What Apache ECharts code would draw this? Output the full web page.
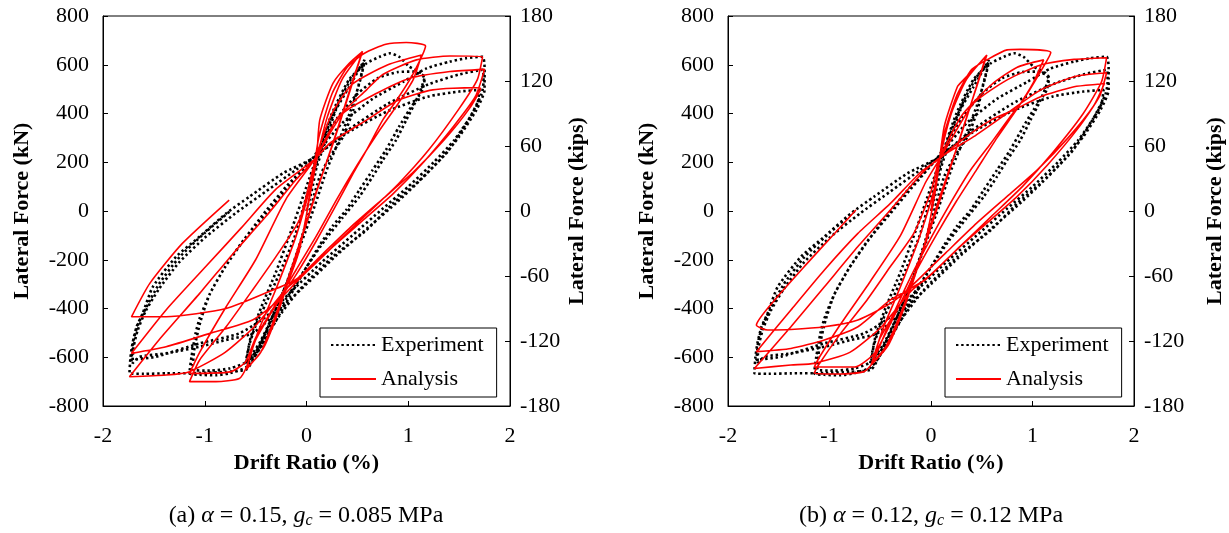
<!DOCTYPE html>
<html><head><meta charset="utf-8">
<script src="https://cdn.jsdelivr.net/npm/echarts@6/dist/echarts.min.js"></script>
<style>html,body{margin:0;padding:0;background:#fff}#c{width:1229px;height:533px}</style>
</head><body><div id="c"></div>
<script>
// ---- data (drift ratio %, lateral force kN) ----
const experiment = [
[0,0],[0.05,80],[0.1,180],[0.19,290],[0.29,415],[0.42,510],[0.57,620],
[0.55,579],[0.5,497],[0.46,415],[0.36,305],[0.23,223],[0.13,141],[0.03,0],[-0.07,-140],[-0.2,-300],[-0.33,-430],[-0.47,-560],[-0.6,-630],
[-0.57,-560],[-0.5,-470],[-0.4,-380],[-0.27,-260],[-0.12,-110],[0.0,60],[0.1,200],[0.2,330],[0.32,450],[0.45,550],[0.57,610],
[0.53,540],[0.45,430],[0.33,300],[0.2,170],[0.08,20],[-0.05,-130],[-0.18,-280],[-0.32,-420],[-0.46,-540],[-0.59,-620],
[-0.55,-520],[-0.45,-400],[-0.3,-250],[-0.15,-80],[0,100],[0.1,220],[0.25,400],[0.42,540],[0.59,606],[0.72,633],[0.82,647],[0.91,633],[1.01,592],[1.13,565],[1.16,538],
[1.14,497],[1.1,469],[1.01,415],[0.91,346],[0.78,250],[0.65,168],[0.52,86],[0.39,4],[0.26,-60],[0.13,-140],[0.0,-230],[-0.15,-340],[-0.3,-450],[-0.45,-560],[-0.59,-640],[-0.75,-665],[-0.89,-674],[-1.05,-672],[-1.15,-666],
[-1.13,-598],[-1.09,-502],[-1.05,-440],[-0.95,-340],[-0.8,-230],[-0.6,-110],[-0.4,0],[-0.2,100],[0.06,216],[0.3,380],[0.5,480],[0.7,545],[0.9,570],[1.05,572],[1.13,560],[1.16,551],
[1.08,456],[0.98,373],[0.88,291],[0.75,209],[0.65,141],[0.52,59],[0.35,-30],[0.18,-120],[0.0,-230],[-0.2,-360],[-0.4,-500],[-0.55,-610],[-0.75,-645],[-0.95,-655],[-1.12,-650],
[-1.1,-560],[-1.04,-450],[-0.95,-340],[-0.8,-230],[-0.62,-120],[-0.4,-10],[-0.2,90],[0.06,216],[0.35,360],[0.65,460],[0.95,530],[1.18,585],[1.41,613],[1.57,627],[1.73,633],
[1.75,590],[1.75,540],[1.75,497],[1.67,415],[1.5,305],[1.31,209],[1.08,114],[0.85,31],[0.59,-78],[0.26,-187],[-0.07,-324],[-0.3,-450],[-0.5,-590],[-0.59,-650],[-0.8,-660],[-1.05,-665],[-1.38,-666],[-1.6,-668],[-1.74,-666],
[-1.73,-600],[-1.71,-543],[-1.67,-475],[-1.61,-420],[-1.51,-311],[-1.28,-187],[-1.05,-105],[-0.79,-10],[-0.56,59],[-0.23,155],[0.06,216],[0.4,330],[0.8,440],[1.2,520],[1.5,560],[1.73,579],
[1.74,530],[1.72,480],[1.6,380],[1.4,250],[1.15,140],[0.9,40],[0.6,-70],[0.3,-180],[0,-300],[-0.27,-406],[-0.53,-502],[-0.79,-529],[-1.05,-557],[-1.38,-584],[-1.64,-598],[-1.71,-625],
[-1.7,-560],[-1.66,-490],[-1.58,-410],[-1.45,-320],[-1.25,-210],[-1.0,-110],[-0.7,-10],[-0.4,80],[-0.1,170],[0.06,216],[0.4,320],[0.8,410],[1.2,470],[1.5,490],[1.7,497],
[1.68,440],[1.6,380],[1.45,290],[1.25,200],[1.0,100],[0.75,10],[0.45,-100],[0.15,-210],[-0.15,-330],[-0.4,-434],[-0.66,-502],[-1.05,-543],[-1.48,-598],[-1.72,-611],
[-1.7,-530],[-1.65,-460],[-1.58,-400],[-1.45,-300],[-1.25,-190],[-1.0,-90],[-0.75,0]
];
const analysisA = [
[0,0],[0.05,100],[0.1,210],[0.2,380],[0.35,540],[0.55,655],
[0.45,530],[0.3,330],[0.1,80],[-0.1,-180],[-0.25,-380],[-0.42,-560],[-0.59,-650],
[-0.5,-529],[-0.33,-406],[-0.2,-310],[-0.07,-160],[0.05,100],[0.1,223],[0.13,373],[0.26,524],[0.42,606],[0.55,654],
[0.44,510],[0.28,300],[0.08,60],[-0.12,-200],[-0.28,-400],[-0.45,-580],[-0.59,-645],
[-0.48,-500],[-0.3,-320],[-0.1,-100],[0.05,120],[0.12,300],[0.25,480],[0.4,590],[0.57,647],[0.78,684],[0.98,691],[1.17,677],
[1.05,565],[0.91,470],[0.75,374],[0.59,250],[0.46,155],[0.3,31],[0.1,-120],[-0.1,-260],[-0.33,-406],[-0.5,-529],[-0.59,-640],[-0.66,-687],[-0.89,-700],[-1.15,-700],
[-1.05,-611],[-0.79,-475],[-0.53,-324],[-0.3,-187],[-0.07,-37],[0.05,150],[0.1,230],[0.25,400],[0.45,520],[0.8,600],[1.13,640],
[1.05,540],[0.9,440],[0.7,320],[0.5,190],[0.3,50],[0.1,-100],[-0.1,-240],[-0.3,-380],[-0.5,-520],[-0.6,-620],[-0.75,-660],[-1.15,-666],
[-1.05,-580],[-0.8,-400],[-0.5,-200],[-0.2,50],[0.08,212],[0.3,380],[0.59,497],[0.75,560],[1.08,620],[1.41,636],[1.73,633],
[1.68,540],[1.5,420],[1.2,250],[0.9,110],[0.6,-10],[0.3,-130],[0,-250],[-0.2,-320],[-0.5,-470],[-0.8,-580],[-1.15,-659],[-1.38,-673],[-1.74,-680],
[-1.45,-529],[-1.05,-338],[-0.72,-174],[-0.4,-23],[-0.1,130],[0.08,212],[0.36,401],[0.69,483],[1.01,544],[1.41,572],[1.75,581],
[1.66,470],[1.45,350],[1.15,200],[0.85,70],[0.55,-40],[0.25,-150],[-0.05,-270],[-0.27,-365],[-0.53,-447],[-0.95,-502],[-1.38,-557],[-1.72,-584],
[-1.38,-406],[-0.99,-228],[-0.63,-64],[-0.3,90],[0.08,212],[0.23,278],[0.59,373],[0.91,456],[1.24,497],[1.64,506],[1.71,503],
[1.6,420],[1.35,290],[1.05,160],[0.75,50],[0.45,-60],[0.15,-180],[-0.1,-280],[-0.33,-324],[-0.79,-400],[-1.38,-434],[-1.72,-434],
[-1.54,-297],[-1.22,-133],[-0.76,45]
];
const analysisB = [
[0,0],[0.08,200],[0.2,400],[0.35,540],[0.55,640],
[0.45,510],[0.3,320],[0.1,60],[-0.1,-190],[-0.25,-380],[-0.42,-550],[-0.59,-632],
[-0.5,-520],[-0.33,-400],[-0.2,-300],[-0.07,-150],[0.05,100],[0.13,346],[0.26,510],[0.32,538],[0.54,633],
[0.44,500],[0.28,290],[0.08,50],[-0.12,-210],[-0.28,-400],[-0.45,-560],[-0.58,-625],
[-0.48,-490],[-0.3,-310],[-0.1,-90],[0.05,120],[0.12,300],[0.25,470],[0.4,580],[0.55,620],[0.75,661],[0.88,663],[1.18,650],
[1.05,551],[0.91,456],[0.78,387],[0.59,278],[0.39,168],[0.19,31],[0,-110],[-0.2,-270],[-0.4,-450],[-0.58,-625],[-0.66,-659],[-0.89,-669],[-1.15,-666],
[-1.12,-639],[-0.89,-502],[-0.63,-365],[-0.4,-228],[-0.17,-92],[0,80],[0.08,210],[0.3,390],[0.6,520],[0.85,590],[1.11,620],
[1.0,520],[0.85,420],[0.65,300],[0.45,170],[0.25,40],[0.05,-100],[-0.15,-250],[-0.35,-420],[-0.55,-580],[-0.75,-640],[-1.15,-640],
[-1.1,-600],[-0.9,-470],[-0.6,-290],[-0.3,-100],[-0.05,120],[0.1,223],[0.42,442],[0.75,538],[1.08,599],[1.41,622],[1.73,629],
[1.68,530],[1.5,400],[1.2,240],[0.9,100],[0.6,-20],[0.3,-140],[0,-260],[-0.2,-330],[-0.5,-480],[-0.8,-580],[-1.15,-625],[-1.38,-632],[-1.74,-646],
[-1.38,-475],[-1.05,-311],[-0.72,-146],[-0.4,4],[-0.1,150],[0.1,223],[0.42,305],[0.75,401],[1.08,497],[1.41,551],[1.73,567],
[1.66,470],[1.45,340],[1.15,190],[0.85,60],[0.55,-50],[0.25,-160],[-0.05,-280],[-0.4,-365],[-0.72,-475],[-1.05,-529],[-1.38,-564],[-1.72,-577],
[-1.38,-406],[-1.05,-242],[-0.72,-92],[-0.4,31],[-0.1,160],[0.1,220],[0.26,278],[0.59,373],[0.82,415],[1.08,469],[1.41,510],[1.67,521],[1.71,524],
[1.6,430],[1.35,300],[1.05,170],[0.75,60],[0.45,-50],[0.15,-170],[-0.2,-311],[-0.4,-379],[-0.72,-447],[-1.05,-475],[-1.38,-486],[-1.61,-488],[-1.72,-468],
[-1.54,-365],[-1.22,-215],[-0.95,-92],[-0.74,4]
];
const seriesNames = ['Experiment', 'Analysis'];
const captions = [
  '(a) {i|α} = 0.15, {i|g}{s|c} = 0.085 MPa',
  '(b) {i|α} = 0.12, {i|g}{s|c} = 0.12 MPa'
];
const xName = 'Drift Ratio (%)', yNameKN = 'Lateral Force (kN)', yNameKips = 'Lateral Force (kips)';

// ---- chart ----
const FONT = '"Liberation Serif","Times New Roman",serif';
const panels = [{left:103, width:407, cx:306, kipsGap:56}, {left:728, width:406, cx:931, kipsGap:70}];
const lbl = {fontFamily:FONT, fontSize:22, color:'#000'};
const nm = {fontFamily:FONT, fontSize:22, fontWeight:'bold', color:'#000'};
const axLine = {show:true, onZero:false, lineStyle:{color:'#000', width:1}};
const tick = {show:true, inside:true, length:5, lineStyle:{color:'#000'}};

const option = {
  animation:false,
  backgroundColor:'#fff',
  grid: panels.map(p => ({left:p.left, top:16, width:p.width, height:390, show:true, borderColor:'#000', borderWidth:1, backgroundColor:'transparent'})),
  xAxis: panels.map((p,i) => ({gridIndex:i, type:'value', min:-2, max:2, interval:1,
    axisLine:axLine, axisTick:tick, axisLabel:Object.assign({margin:19}, lbl), splitLine:{show:false},
    name:xName, nameLocation:'middle', nameGap:45, nameTextStyle:nm})),
  yAxis: [].concat(...panels.map((p,i) => [
    {gridIndex:i, type:'value', position:'left', min:-800, max:800, interval:200,
     axisLine:axLine, axisTick:tick, axisLabel:Object.assign({margin:14}, lbl), splitLine:{show:false},
     name:yNameKN, nameLocation:'middle', nameGap:70, nameRotate:90, nameTextStyle:nm},
    {gridIndex:i, type:'value', position:'right', min:-180, max:180, interval:60,
     axisLine:axLine, axisTick:tick, axisLabel:Object.assign({margin:10}, lbl), splitLine:{show:false},
     name:yNameKips, nameLocation:'middle', nameGap:p.kipsGap, nameRotate:90, nameTextStyle:nm}
  ])),
  legend: panels.map(p => ({orient:'vertical', left:p.left+217, top:328, itemWidth:45, itemHeight:14, itemGap:12,
    padding:[6,13,7,10], borderColor:'#000', borderWidth:1, backgroundColor:'#fff', borderRadius:0,
    itemStyle:{opacity:0, color:'transparent', borderWidth:0},
    textStyle:{fontFamily:FONT, fontSize:22, color:'#000'}, data:seriesNames, selectedMode:false})),
  series: [].concat(...[analysisA, analysisB].map((ana,i) => [
    {name:seriesNames[0], type:'line', xAxisIndex:i, yAxisIndex:i*2, data:experiment, showSymbol:false, symbol:'none', smooth:0.2,
     lineStyle:{color:'#000', width:2.6, type:[2.4,2.8]}, itemStyle:{color:'#000'}},
    {name:seriesNames[1], type:'line', xAxisIndex:i, yAxisIndex:i*2, data:ana, showSymbol:false, symbol:'none', smooth:0.2,
     lineStyle:{color:'#ff0000', width:1.6}, itemStyle:{color:'#ff0000'}}
  ])),
  graphic: panels.map((p,i) => ({type:'text', x:p.cx, y:516, style:{text:captions[i], textAlign:'center', textVerticalAlign:'middle',
    font:'24px "Liberation Serif"', fill:'#000',
    rich:{i:{fontFamily:FONT, fontSize:24, fontStyle:'italic'}, s:{fontFamily:FONT, fontSize:16, fontStyle:'italic', padding:[10,0,0,0]}}}}))
};
echarts.init(document.getElementById('c')).setOption(option);
</script></body></html>
